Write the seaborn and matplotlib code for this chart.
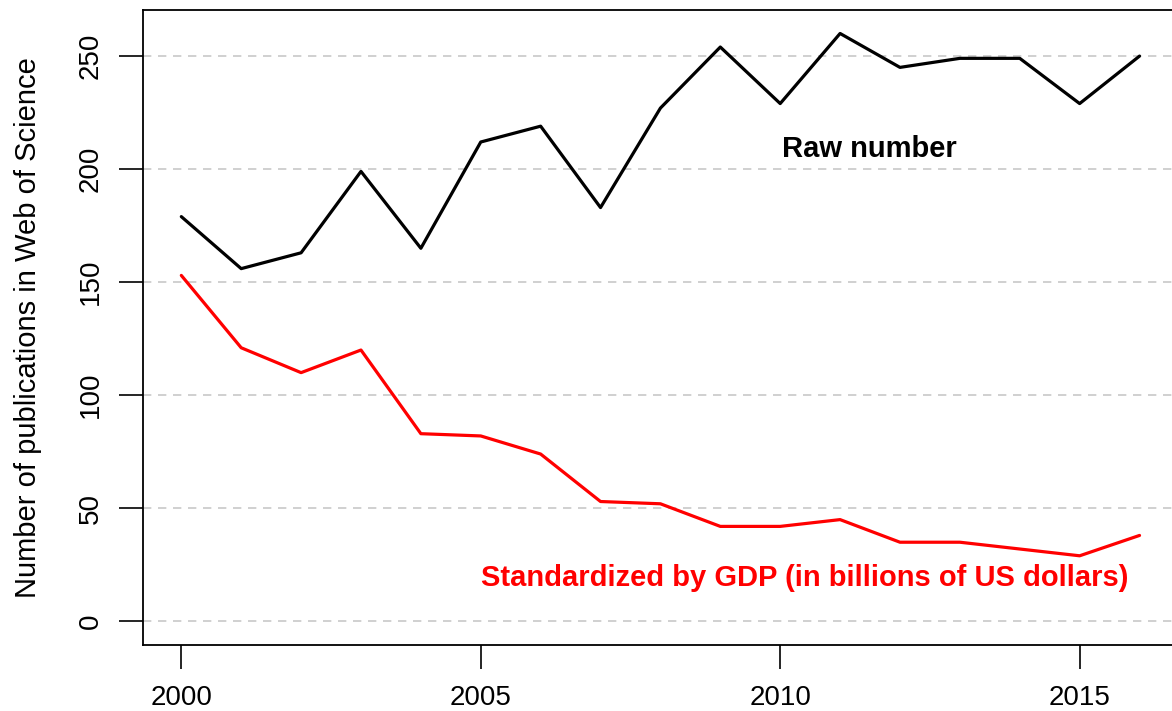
import pandas as pd
import matplotlib.pyplot as plt
import seaborn as sns

sns.set_style("white")
plt.rcParams['font.family'] = ['Liberation Sans', 'DejaVu Sans']

years = list(range(2000, 2017))
raw_number = [179, 156, 163, 199, 165, 212, 219, 183, 227, 254, 229, 260, 245, 249, 249, 229, 250]
by_gdp = [153, 121, 110, 120, 83, 82, 74, 53, 52, 42, 42, 45, 35, 35, 32, 29, 38]

df = pd.DataFrame({"Year": years, "Raw": raw_number, "GDP": by_gdp})

fig = plt.figure(figsize=(11.72, 7.11), dpi=100)
ax = fig.add_axes([0.122, 0.093, 0.883, 0.893])

for y in [0, 50, 100, 150, 200, 250]:
    ax.axhline(y, color="#c8c8c8", lw=1.2, ls=(0, (5, 4)), zorder=0)

sns.lineplot(x="Year", y="Raw", data=df, ax=ax, color="black", lw=2.3)
sns.lineplot(x="Year", y="GDP", data=df, ax=ax, color="red", lw=2.3)

ax.set_xlim(1999.36, 2016.64)
ax.set_ylim(-10.4, 270.4)
ax.set_xticks([2000, 2005, 2010, 2015])
ax.set_yticks([0, 50, 100, 150, 200, 250])
ax.tick_params(axis="both", direction="out", length=17, width=1.2, labelsize=20,
               colors="black", bottom=True, left=True)
ax.tick_params(axis="x", pad=12)
ax.tick_params(axis="y", pad=11)
for lab in ax.get_yticklabels():
    lab.set_rotation(90)
    lab.set_va("center")
for s in ax.spines.values():
    s.set_color("black")
    s.set_linewidth(1.3)

ax.set_xlabel("")
ax.set_ylabel("Number of publications in Web of Science", fontsize=21, color="black", labelpad=26)

ax.text(2011.49, 209, "Raw number", fontsize=21, fontweight="bold", color="black", ha="center", va="center")
ax.text(2010.41, 19, "Standardized by GDP (in billions of US dollars)", fontsize=21,
        fontweight="bold", color="red", ha="center", va="center")

fig.savefig("out.png", dpi=100)
